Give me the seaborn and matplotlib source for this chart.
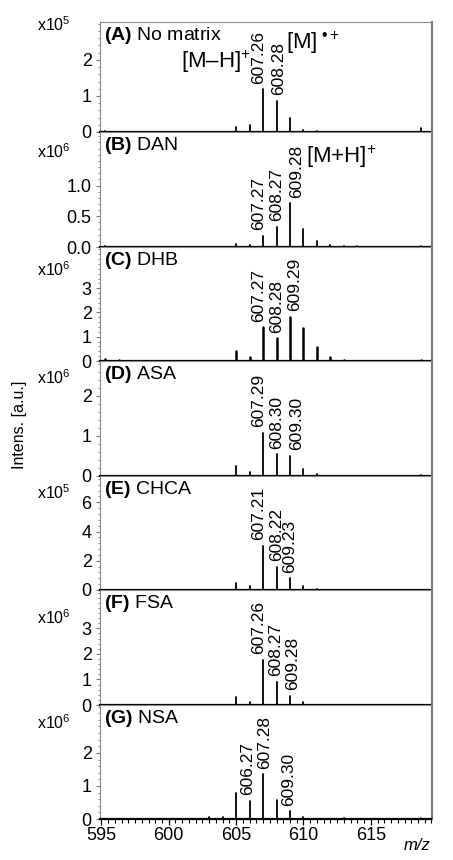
import matplotlib
matplotlib.use("Agg")
import pandas as pd
import matplotlib.pyplot as plt
import seaborn as sns
from matplotlib.ticker import AutoMinorLocator, MultipleLocator, FormatStrFormatter

# panel info
letters = ["A", "B", "C", "D", "E", "F", "G"]
matrices = ["No matrix", "DAN", "DHB", "ASA", "CHCA", "FSA", "NSA"]
exponents = [5, 6, 6, 6, 5, 6, 6]
ytop = [3.05, 1.87, 4.7, 2.87, 7.8, 4.5, 3.45]
yticks = [[0, 1, 2], [0.0, 0.5, 1.0], [0, 1, 2, 3], [0, 1, 2],
          [0, 2, 4, 6], [0, 1, 2, 3], [0, 1, 2]]

# peak positions (m/z) and intensities
mz_A = [595.3, 605, 606, 607, 608, 609, 610, 611, 618.7]
int_A = [0.03, 0.14, 0.2, 1.19, 0.87, 0.39, 0.06, 0.04, 0.1]
mz_B = [595.3, 605, 606, 607, 608, 609, 610, 611, 612, 613, 614, 618.7]
int_B = [0.02, 0.05, 0.04, 0.18, 0.33, 0.71, 0.29, 0.1, 0.04, 0.02, 0.02, 0.02]
mz_C = [595.3, 596.3, 605, 606, 607, 608, 609, 610, 611, 612, 613, 618.7]
int_C = [0.08, 0.03, 0.42, 0.18, 1.39, 0.93, 1.82, 1.35, 0.56, 0.15, 0.04, 0.03]
mz_D = [605, 606, 607, 608, 609, 610, 611, 618.7]
int_D = [0.25, 0.09, 1.08, 0.54, 0.5, 0.17, 0.05, 0.03]
mz_E = [605, 606, 607, 608, 609, 610, 611]
int_E = [0.46, 0.25, 3.03, 1.6, 0.8, 0.27, 0.05]
mz_F = [605, 606, 607, 608, 609, 610]
int_F = [0.33, 0.13, 1.76, 0.91, 0.36, 0.1]
mz_G = [603, 604, 605, 606, 607, 608, 609, 610, 613, 618.7]
int_G = [0.05, 0.05, 0.8, 0.55, 1.35, 0.58, 0.24, 0.05, 0.03, 0.02]

spectra = [(mz_A, int_A), (mz_B, int_B), (mz_C, int_C), (mz_D, int_D),
           (mz_E, int_E), (mz_F, int_F), (mz_G, int_G)]

# labelled peaks: (peak position, label)
labels = [
    [(607, "607.26"), (608, "608.28")],
    [(607, "607.27"), (608, "608.27"), (609, "609.28")],
    [(607, "607.27"), (608, "608.28"), (609, "609.29")],
    [(607, "607.29"), (608, "608.30"), (609, "609.30")],
    [(607, "607.21"), (608, "608.22"), (609, "609.23")],
    [(607, "607.26"), (608, "608.27"), (609, "609.28")],
    [(606, "606.27"), (607, "607.28"), (609, "609.30")],
]
# horizontal nudge of each label (points) so neighbours do not collide
nudges = [
    [-3.5, 1.5],
    [-3, 0, 4.5],
    [-3, 0, 3.5],
    [-3, 0, 4.5],
    [-3.5, 0, 0],
    [-3.5, -1, 2],
    [-1.5, 1, -1],
]

sns.set_style("ticks")
plt.rcParams['font.family'] = ['Liberation Sans', 'DejaVu Sans']
plt.rcParams['mathtext.fontset'] = 'custom'
plt.rcParams['mathtext.rm'] = 'Liberation Sans'
plt.rcParams['mathtext.it'] = 'Liberation Sans:italic'
plt.rcParams['mathtext.bf'] = 'Liberation Sans:bold'
plt.rcParams['text.color'] = 'black'
plt.rcParams['xtick.color'] = 'black'
plt.rcParams['ytick.color'] = 'black'
plt.rcParams['axes.labelcolor'] = 'black'

fig = plt.figure(figsize=(4.53, 8.6), dpi=100)
edges = [22, 132, 247, 361, 476, 590, 705, 819]
mult_off = [3, 20, 23, 17, 17, 28, 18]
W, H = 453, 860
left, right = 100, 431.5

for i in range(7):
    y0, y1 = edges[i], edges[i + 1]
    ax = fig.add_axes([left / W, 1 - y1 / H, (right - left) / W, (y1 - y0) / H])
    mz, inten = spectra[i]
    rows = []
    for k, (m, h) in enumerate(zip(mz, inten)):
        rows.append({"mz": m, "intens": 0.0, "peak": k})
        rows.append({"mz": m, "intens": h, "peak": k})
    df = pd.DataFrame(rows)
    sns.lineplot(data=df, x="mz", y="intens", units="peak", estimator=None,
                 color="black", lw=1.8 if i == 2 else 1.3, ax=ax)

    ax.set_xlim(594.9, 619.5)
    ax.set_ylim(0, ytop[i])
    ax.set_xlabel("")
    ax.set_ylabel("")
    ax.set_yticks(yticks[i])
    if i == 1:
        ax.yaxis.set_major_formatter(FormatStrFormatter("%.1f"))
    ax.yaxis.set_minor_locator(AutoMinorLocator(5))
    ax.tick_params(axis="y", which="major", direction="out", length=3,
                   width=0.8, color="#777777", labelcolor="black",
                   labelsize=13, pad=3)
    ax.tick_params(axis="y", which="minor", direction="out", length=1.5,
                   width=0.6, color="#777777")

    for s in ["left", "top"]:
        ax.spines[s].set_color("#888888")
        ax.spines[s].set_linewidth(0.8)
    ax.spines["right"].set_color("#777777")
    ax.spines["right"].set_linewidth(1.5)
    ax.spines["bottom"].set_color("black")
    ax.spines["bottom"].set_linewidth(1.6)

    if i < 6:
        ax.tick_params(axis="x", which="both", bottom=False, labelbottom=False)
    else:
        ax.xaxis.set_major_locator(MultipleLocator(5))
        ax.xaxis.set_minor_locator(MultipleLocator(0.5))
        ax.tick_params(axis="x", which="major", direction="out", length=4,
                       width=0.9, color="black", labelsize=13, pad=2)
        ax.tick_params(axis="x", which="minor", direction="out", length=3,
                       width=0.8, color="black")

    # panel title
    ax.text(0.012, 0.975, f"$\\mathbf{{({letters[i]})}}$ {matrices[i]}",
            transform=ax.transAxes, ha="left", va="top", fontsize=14)

    # multiplier
    fig.text(71 / W, 1 - (y0 + mult_off[i]) / H, f"x10$^{{{exponents[i]}}}$",
             ha="right", va="center", fontsize=11.5)

    # peak labels
    hmap = dict(zip(mz, inten))
    for (m, lab), dx in zip(labels[i], nudges[i]):
        ax.annotate(lab, xy=(m, hmap[m]), xytext=(dx, 4), textcoords="offset points",
                    rotation=90, ha="center", va="bottom", fontsize=12.5)

    if i == 0:
        ax.text(606.1, 1.95, r"[M–H]$^{+}$", ha="right", va="center", fontsize=16)
        ax.text(608.7, 2.47, r"[M]$^{\ •+}$", ha="left", va="center", fontsize=16)
    if i == 1:
        ax.text(610.2, 1.46, r"[M+H]$^{+}$", ha="left", va="center", fontsize=16)

fig.text(20 / W, 1 - 425 / H, "Intens. [a.u.]", rotation=90, ha="center",
         va="center", fontsize=11.5)
fig.text(431 / W, 0.008, "m/z", style="italic", ha="right", va="bottom", fontsize=12)

fig.savefig("out.png", dpi=100)
